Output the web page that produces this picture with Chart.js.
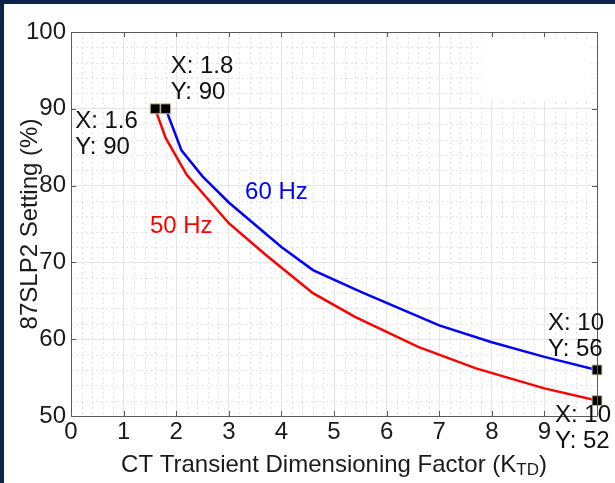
<!DOCTYPE html>
<html>
<head>
<meta charset="utf-8">
<script src="https://cdn.jsdelivr.net/npm/chart.js@4.4.0/dist/chart.umd.min.js"></script>
<style>
    html, body { margin: 0; padding: 0; background: #fff; }
    #wrap { width: 615px; height: 483px; }
</style>
</head>
<body>
<div id="wrap"><canvas id="chart" width="615" height="483"></canvas></div>
<script>
// ============================================
// 87SLP2 SETTING vs K_TD
// ============================================

// curve data
const ktd50 = [1.6, 1.8, 2.2, 3.0, 3.7, 4.6, 5.4, 6.6, 7.7, 9.0, 10];
const slp50 = [90, 86.2, 81.4, 75.1, 71.0, 66.0, 62.9, 59.0, 56.2, 53.6, 52];
const ktd60 = [1.8, 2.1, 2.5, 3.0, 4.0, 4.6, 5.5, 7.0, 8.0, 9.0, 10];
const slp60 = [90, 84.6, 81.2, 77.8, 72.0, 69.0, 66.2, 61.8, 59.6, 57.7, 56];

// data tips
const tipX = [1.6, 1.8, 10, 10];
const tipY = [90, 90, 56, 52];

// axes
const xTicks = [0, 1, 2, 3, 4, 5, 6, 7, 8, 9, 10];
const yTicks = [50, 60, 70, 80, 90, 100];

const FONT = '"Liberation Sans", Arial, Helvetica, sans-serif';
const FS = 24;
const NAVY = '#0b2447';

const toPts = (xs, ys) => xs.map((x, i) => ({ x: x, y: ys[i] }));

// 1. Background, frame, minor grid, box, ticks, texts
const matlabLook = {
    id: 'matlabLook',
    beforeDraw(chart) {
        const ctx = chart.ctx;
        ctx.save();
        ctx.fillStyle = '#fff';
        ctx.fillRect(0, 0, chart.width, chart.height);
        ctx.fillStyle = NAVY;
        ctx.fillRect(0, 0, chart.width, 4);
        ctx.fillRect(0, 0, 4, chart.height);
        ctx.restore();
    },
    beforeDatasetsDraw(chart) {
        const ctx = chart.ctx;
        const a = chart.chartArea;
        const xs = chart.scales.x, ys = chart.scales.y;
        ctx.save();
        ctx.strokeStyle = '#e3e3e3';
        ctx.lineWidth = 1;
        ctx.setLineDash([2, 3]);
        ctx.beginPath();
        for (let i = 0; i < 50; i++) {
            if (i % 5 === 0) continue;
            const px = Math.round(xs.getPixelForValue(i * 0.2)) + 0.5;
            ctx.moveTo(px, a.top); ctx.lineTo(px, a.bottom);
        }
        for (let i = 0; i < 25; i++) {
            if (i % 5 === 0) continue;
            const py = Math.round(ys.getPixelForValue(50 + i * 2)) + 0.5;
            ctx.moveTo(a.left, py); ctx.lineTo(a.right, py);
        }
        ctx.stroke();
        ctx.setLineDash([]);

        // blank patch top right (removed legend)
        const l = xs.getPixelForValue(7.8), r = xs.getPixelForValue(9.85);
        const t = ys.getPixelForValue(99), b = ys.getPixelForValue(91);
        ctx.fillStyle = '#fff';
        ctx.fillRect(l, t, r - l, b - t);
        ctx.restore();
    },
    afterDatasetsDraw(chart) {
        const ctx = chart.ctx;
        const a = chart.chartArea;
        const xs = chart.scales.x, ys = chart.scales.y;
        ctx.save();

        // box + inward ticks
        ctx.strokeStyle = '#5a5a5a';
        ctx.lineWidth = 1;
        ctx.beginPath();
        ctx.rect(Math.round(a.left) + 0.5, Math.round(a.top) + 0.5,
            Math.round(a.right - a.left), Math.round(a.bottom - a.top));
        xTicks.forEach(v => {
            const px = Math.round(xs.getPixelForValue(v)) + 0.5;
            ctx.moveTo(px, a.bottom); ctx.lineTo(px, a.bottom - 5);
            ctx.moveTo(px, a.top); ctx.lineTo(px, a.top + 5);
        });
        yTicks.forEach(v => {
            const py = Math.round(ys.getPixelForValue(v)) + 0.5;
            ctx.moveTo(a.left, py); ctx.lineTo(a.left + 5, py);
            ctx.moveTo(a.right, py); ctx.lineTo(a.right - 5, py);
        });
        ctx.stroke();

        // curve labels
        ctx.font = FS + 'px ' + FONT;
        ctx.textBaseline = 'middle';
        ctx.textAlign = 'left';
        ctx.fillStyle = '#0000ff';
        ctx.fillText('60 Hz', xs.getPixelForValue(3.31), ys.getPixelForValue(79.1));
        ctx.fillStyle = '#ff0000';
        ctx.fillText('50 Hz', xs.getPixelForValue(1.5), ys.getPixelForValue(74.7));

        // data tip texts (offsets from the marker, px)
        const offs = [[-80, 13], [5, -42], [-49, -47], [-42, 15]];
        ctx.fillStyle = '#111';
        tipX.forEach((x, i) => {
            const px = xs.getPixelForValue(x) + offs[i][0];
            const py = ys.getPixelForValue(tipY[i]) + offs[i][1];
            ctx.fillText('X: ' + x, px, py);
            ctx.fillText('Y: ' + tipY[i], px, py + 26);
        });

        // axis titles
        ctx.fillStyle = '#1a1a1a';
        ctx.save();
        ctx.translate(30, (a.top + a.bottom) / 2);
        ctx.rotate(-Math.PI / 2);
        ctx.textAlign = 'center';
        ctx.fillText('87SLP2 Setting (%)', 0, 0);
        ctx.restore();

        const main = 'CT Transient Dimensioning Factor (K';
        const sub = 'TD';
        const subFs = 17;
        ctx.font = FS + 'px ' + FONT;
        const w1 = ctx.measureText(main).width;
        ctx.font = subFs + 'px ' + FONT;
        const w2 = ctx.measureText(sub).width;
        ctx.font = FS + 'px ' + FONT;
        const w3 = ctx.measureText(')').width;
        let x0 = (a.left + a.right) / 2 - (w1 + w2 + w3) / 2;
        const yT = 465;
        ctx.textAlign = 'left';
        ctx.fillText(main, x0, yT);
        ctx.font = subFs + 'px ' + FONT;
        ctx.fillText(sub, x0 + w1, yT + 5);
        ctx.font = FS + 'px ' + FONT;
        ctx.fillText(')', x0 + w1 + w2, yT);
        ctx.restore();
    }
};

new Chart(document.getElementById('chart'), {
    type: 'scatter',
    data: {
        datasets: [
            {
                label: 'tips',
                data: toPts(tipX, tipY),
                pointStyle: 'rect',
                pointRadius: 7,
                pointBackgroundColor: '#000',
                pointBorderColor: '#c9bf8f',
                pointBorderWidth: 1,
                showLine: false,
                clip: false,
                order: 0
            },
            {
                label: '50 Hz',
                data: toPts(ktd50, slp50),
                showLine: true,
                borderColor: '#ff0000',
                borderWidth: 2.5,
                pointRadius: 0,
                tension: 0,
                order: 1
            },
            {
                label: '60 Hz',
                data: toPts(ktd60, slp60),
                showLine: true,
                borderColor: '#0000ff',
                borderWidth: 2.5,
                pointRadius: 0,
                tension: 0,
                order: 1
            }
        ]
    },
    options: {
        responsive: false,
        animation: false,
        devicePixelRatio: 1,
        layout: { padding: { top: 32, right: 18, left: 0, bottom: 0 } },
        plugins: {
            legend: { display: false },
            tooltip: { enabled: false }
        },
        scales: {
            x: {
                type: 'linear',
                min: 0,
                max: 10,
                afterFit: s => { s.height = 67; },
                afterBuildTicks: s => { s.ticks = xTicks.map(v => ({ value: v })); },
                ticks: {
                    padding: 2,
                    color: '#1a1a1a',
                    font: { family: FONT, size: FS },
                    callback: v => (v === 10 ? '' : v)
                },
                grid: { color: '#e4e4e4', drawTicks: false },
                border: { display: false }
            },
            y: {
                type: 'linear',
                min: 50,
                max: 100,
                afterFit: s => { s.width = 71; },
                afterBuildTicks: s => { s.ticks = yTicks.map(v => ({ value: v })); },
                ticks: {
                    padding: 5,
                    color: '#1a1a1a',
                    font: { family: FONT, size: FS }
                },
                grid: { color: '#e4e4e4', drawTicks: false },
                border: { display: false }
            }
        }
    },
    plugins: [matlabLook]
});
</script>
</body>
</html>
